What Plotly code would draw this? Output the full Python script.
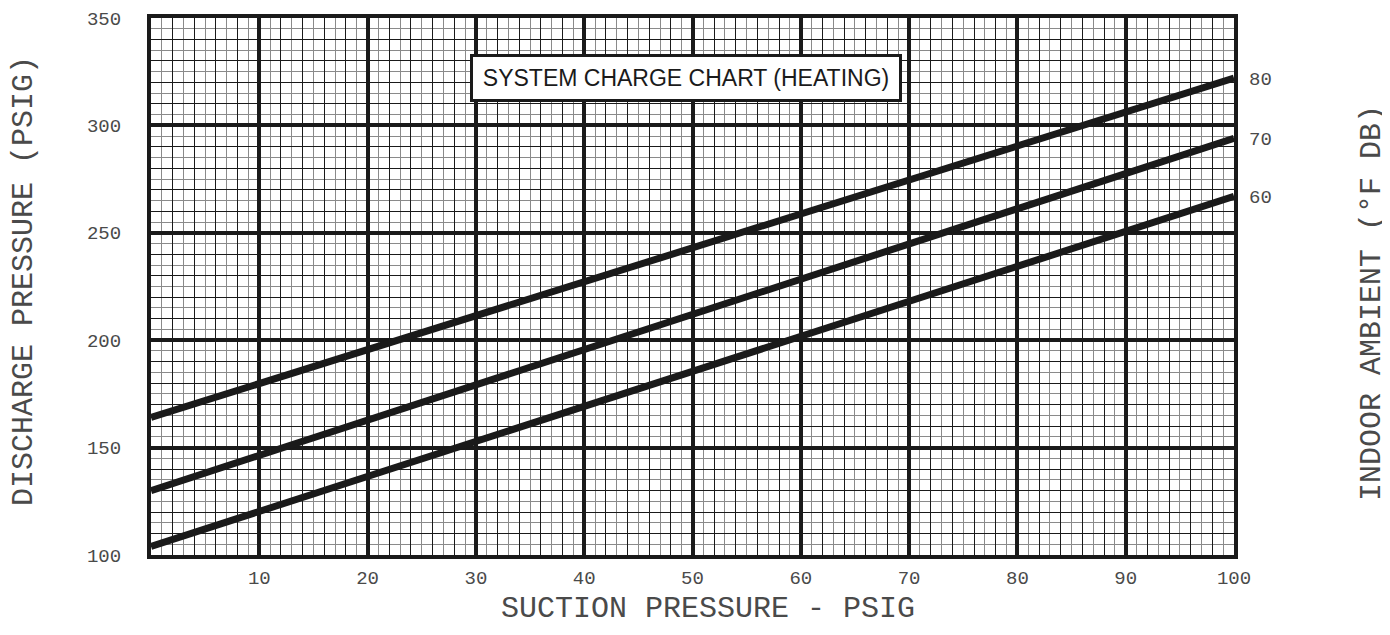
import plotly.graph_objects as go

# Data
suction_psig = [0, 100]
discharge_60F = [104, 267]
discharge_70F = [130, 294]
discharge_80F = [164, 322]
ambient_labels = ["60", "70", "80"]

x_ticks = [10, 20, 30, 40, 50, 60, 70, 80, 90, 100]
y_ticks = [100, 150, 200, 250, 300, 350]

MONO = "Liberation Mono, DejaVu Sans Mono, monospace"
TXT = "#4a4a4a"

fig = go.Figure()
for ys in [discharge_60F, discharge_70F, discharge_80F]:
    fig.add_trace(go.Scatter(x=suction_psig, y=ys, mode="lines",
                             line=dict(color="#1a1a1a", width=7),
                             showlegend=False, hoverinfo="skip",
                             xaxis="x", yaxis="y"))
# invisible helper traces for overlay axes
fig.add_trace(go.Scatter(x=suction_psig, y=discharge_60F, mode="lines",
                         line=dict(width=0), opacity=0, showlegend=False,
                         hoverinfo="skip", xaxis="x2", yaxis="y3"))
fig.add_trace(go.Scatter(x=suction_psig, y=discharge_60F, mode="lines",
                         line=dict(width=0), opacity=0, showlegend=False,
                         hoverinfo="skip", xaxis="x", yaxis="y2"))

right_vals = [discharge_60F[-1], discharge_70F[-1], discharge_80F[-1]]

PW = 1380 - 143 - 154
PH = 625 - 10 - 78

fig.update_layout(
    width=1380, height=625,
    margin=dict(l=143, r=154, t=10, b=78, autoexpand=False),
    plot_bgcolor="white", paper_bgcolor="white",
    xaxis=dict(range=[0, 100], tickvals=x_ticks, ticktext=[str(v) for v in x_ticks],
               showgrid=True, gridcolor="#1a1a1a", gridwidth=4, automargin=False,
               minor=dict(dtick=1, showgrid=True, gridcolor="#8a8a8a", gridwidth=1.3),
               showline=True, mirror=True, linecolor="#1a1a1a", linewidth=4,
               ticks="", ticklabelstandoff=2, zeroline=False,
               tickfont=dict(family=MONO, size=19, color=TXT)),
    xaxis2=dict(range=[0, 100], overlaying="x", anchor="y3", dtick=2, automargin=False,
                showgrid=True, gridcolor="#1a1a1a", gridwidth=1.3,
                showticklabels=False, ticks="", zeroline=False, showline=False),
    yaxis=dict(range=[100, 350], tickvals=y_ticks, ticktext=[str(v) for v in y_ticks],
               showgrid=True, gridcolor="#1a1a1a", gridwidth=4, automargin=False,
               minor=dict(dtick=5, showgrid=True, gridcolor="#8a8a8a", gridwidth=1.3),
               showline=True, mirror=True, linecolor="#1a1a1a", linewidth=4,
               ticks="", ticklabelstandoff=22, zeroline=False,
               tickfont=dict(family=MONO, size=19, color=TXT)),
    yaxis3=dict(range=[100, 350], overlaying="y", anchor="x2", dtick=10, automargin=False,
                showgrid=True, gridcolor="#1a1a1a", gridwidth=1.3,
                showticklabels=False, ticks="", zeroline=False, showline=False),
    yaxis2=dict(range=[100, 350], overlaying="y", side="right", anchor="x",
                tickvals=right_vals, ticktext=ambient_labels, automargin=False,
                showgrid=False, ticks="", zeroline=False, showline=False,
                ticklabelstandoff=14,
                tickfont=dict(family=MONO, size=19, color=TXT)),
    showlegend=False,
)

def px_x(p):
    return (p - 149) / PW

def px_y(p):
    return (557 - p) / PH

fig.add_annotation(text="SYSTEM CHARGE CHART (HEATING)", xref="paper", yref="paper",
                   x=px_x(684), y=px_y(80), xanchor="center", yanchor="middle", showarrow=False,
                   font=dict(family="Liberation Sans Narrow, Arial Narrow, Liberation Sans, sans-serif",
                             size=23, color="#1a1a1a"),
                   bgcolor="white", bordercolor="#1a1a1a", borderwidth=3,
                   width=424, height=40, borderpad=1)

fig.add_annotation(text="DISCHARGE PRESSURE (PSIG)", xref="paper", yref="paper",
                   x=px_x(22), y=px_y(283), textangle=-90,
                   xanchor="center", yanchor="middle",
                   showarrow=False, font=dict(family=MONO, size=30, color=TXT))
fig.add_annotation(text="SUCTION PRESSURE - PSIG", xref="paper", yref="paper",
                   x=px_x(706), y=px_y(611),
                   xanchor="center", yanchor="middle",
                   showarrow=False, font=dict(family=MONO, size=30, color=TXT))
fig.add_annotation(text="INDOOR AMBIENT (°F DB)", xref="paper", yref="paper",
                   x=px_x(1370), y=px_y(305), textangle=-90,
                   xanchor="center", yanchor="middle",
                   showarrow=False, font=dict(family=MONO, size=30, color=TXT))

fig.write_html("out.html")
